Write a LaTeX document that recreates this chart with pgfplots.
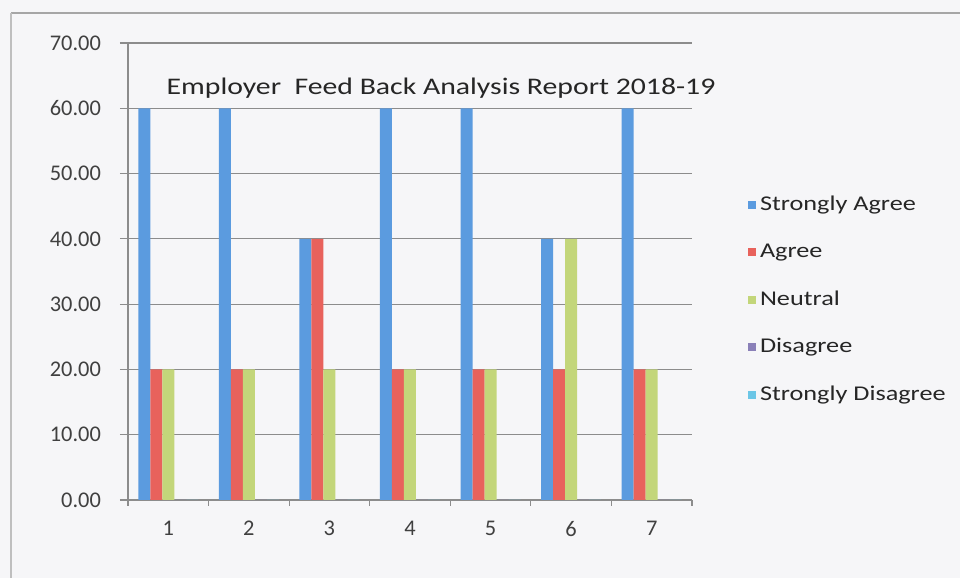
\documentclass[border=0pt]{standalone}
\usepackage{fontspec}
\setmainfont{Carlito}
\newfontfamily\widefont[FakeStretch=1.25]{Carlito}
\usepackage{pgfplots}
\pgfplotsset{compat=1.18}

\definecolor{cSA}{HTML}{5B9BDF}
\definecolor{cA}{HTML}{E8625C}
\definecolor{cN}{HTML}{C3D67A}
\definecolor{cD}{HTML}{8A80B8}
\definecolor{cSD}{HTML}{6CC6E6}
\definecolor{gridc}{HTML}{8C8C8C}
\definecolor{bg}{HTML}{F6F6F8}

\begin{document}
\begin{tikzpicture}
% page frame, 1px = 0.5pt
\path[use as bounding box, fill=bg] (0,0) rectangle (480pt,289pt);
\draw[gray!70, line width=1pt] (5.5pt,282.5pt) -- (480pt,282.5pt);
\draw[gray!50, line width=0.8pt] (5.5pt,282.5pt) -- (5.5pt,0pt);

\begin{axis}[
    at={(64pt,39pt)}, anchor=south west,
    scale only axis,
    width=282pt, height=228.5pt,
    ybar, bar width=6pt, ybar=0pt,
    xmin=0.5, xmax=7.5,
    ymin=0, ymax=70,
    ytick={0,10,...,70},
    xtick={1,...,7},
    axis lines=left,
    axis line style={-, gridc, line width=0.6pt},
    ymajorgrids,
    grid style={gridc, line width=0.6pt},
    major x tick style={draw=none},
    major y tick style={gridc, line width=0.6pt},
    tick align=outside,
    major tick length=4pt,
    extra x ticks={0.5,1.5,...,7.5},
    extra x tick labels={},
    extra x tick style={major tick length=3pt, major x tick style={draw=gridc, line width=0.6pt}, xmajorgrids=false},
    /pgf/number format/fixed,
    /pgf/number format/fixed zerofill,
    /pgf/number format/precision=2,
    /pgf/number format/assume math mode=true,
    ticklabel style={font=\fontsize{11.2pt}{13pt}\selectfont, text=black!75},
    xticklabel style={yshift=-3pt},
    yticklabel style={xshift=-6pt},
    xticklabel={\pgfmathprintnumber[precision=0,fixed zerofill=false]{\tick}},
    legend style={at={(rel axis cs:1.088,0.683)}, anchor=north west, draw=none, fill=none,
        font=\widefont\fontsize{10.5pt}{12pt}\selectfont, row sep=11.1pt, text=black!85,
        /tikz/every even column/.append style={column sep=0pt}},
    legend cell align=left,
    legend image code/.code={\fill[#1] (0pt,-2pt) rectangle (4pt,2pt);},
]
\addplot[fill=cSA, draw=none] coordinates {(1,60) (2,60) (3,40) (4,60) (5,60) (6,40) (7,60)};
\addplot[fill=cA, draw=none] coordinates {(1,20) (2,20) (3,40) (4,20) (5,20) (6,20) (7,20)};
\addplot[fill=cN, draw=none] coordinates {(1,20) (2,20) (3,20) (4,20) (5,20) (6,40) (7,20)};
\addplot[fill=cD, draw=none] coordinates {(1,0) (2,0) (3,0) (4,0) (5,0) (6,0) (7,0)};
\addplot[fill=cSD, draw=none] coordinates {(1,0) (2,0) (3,0) (4,0) (5,0) (6,0) (7,0)};
\legend{Strongly Agree, Agree, Neutral, Disagree, Strongly Disagree}
\end{axis}

\node[font=\widefont\fontsize{11.9pt}{14pt}\selectfont, text=black!85] at (220.5pt,245pt) {Employer\ \ Feed Back Analysis Report 2018-19};
\end{tikzpicture}
\end{document}
